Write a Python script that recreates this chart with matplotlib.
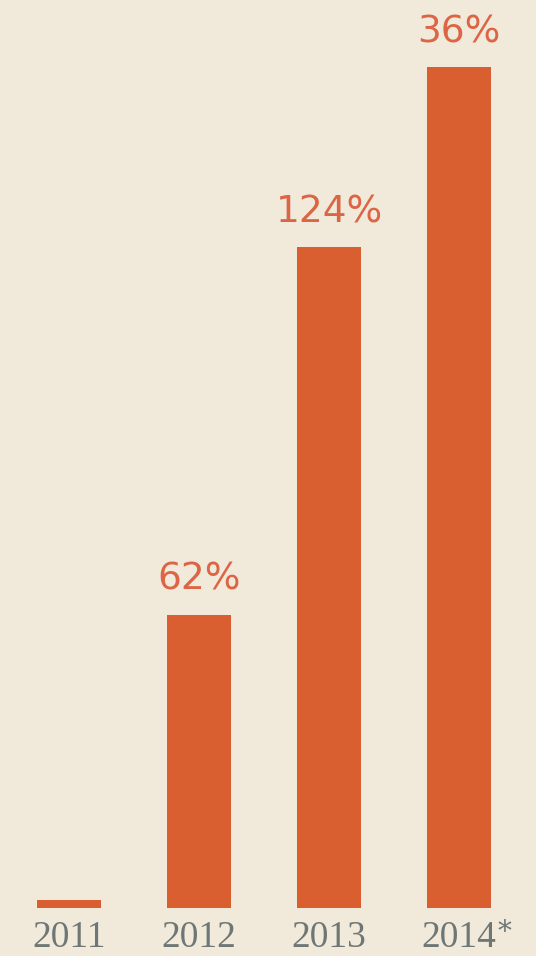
import numpy as np
import matplotlib.pyplot as plt

# bar heights (arbitrary units) and growth labels
years = ['2011', '2012', '2013', '2014']
notes = ['', '', '', '*']
values = [8, 293, 661, 841]
growth = ['', '62%', '124%', '36%']

bg = '#F1EADB'
bar_col = '#D95F30'
lab_col = '#DC6545'
year_col = '#6E7775'

fig = plt.figure(figsize=(5.36, 9.56), dpi=100, facecolor=bg)
ax = fig.add_axes([0, 0, 1, 1])
ax.set_facecolor(bg)

x = np.arange(len(years))
ax.bar(x, values, width=0.49, color=bar_col)

for i, v in enumerate(values):
    if growth[i]:
        ax.text(x[i], v + 25, growth[i], ha='center', va='baseline',
                fontsize=27, color=lab_col, family='DejaVu Sans')
    t = ax.text(x[i], -39, years[i], ha='center', va='baseline',
                fontsize=27, color=year_col, family='Liberation Serif')
    if notes[i]:
        ax.annotate(notes[i], xy=(1, 1), xycoords=t, xytext=(1, 1),
                    textcoords='offset points', ha='left', va='top',
                    fontsize=20, color=year_col, family='DejaVu Serif')

ax.set_xlim(-0.531, 3.592)
ax.set_ylim(-48, 908)
ax.axis('off')

fig.savefig('out.png', dpi=100, facecolor=bg)
